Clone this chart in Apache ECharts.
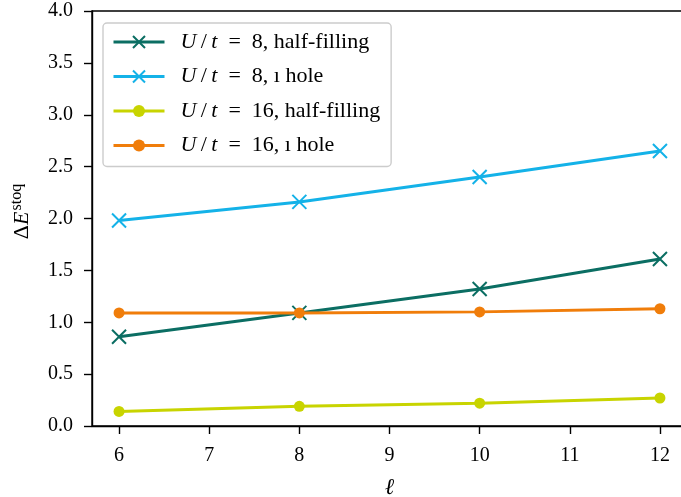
<!DOCTYPE html>
<html>
<head>
<meta charset="utf-8">
<script src="https://cdn.jsdelivr.net/npm/echarts@6/dist/echarts.min.js"></script>
<style>html,body{margin:0;padding:0;background:#fff}#c{width:681px;height:497px}</style>
</head>
<body>
<div id="c"></div>
<script>
const xValues = [6, 8, 10, 12];
const xTicks = [6, 7, 8, 9, 10, 11, 12];
const u8Half = [0.86, 1.09, 1.32, 1.61];
const u8Hole = [1.98, 2.16, 2.40, 2.65];
const u16Half = [0.14, 0.19, 0.22, 0.27];
const u16Hole = [1.09, 1.09, 1.10, 1.13];
const seriesNames = ['U/t = 8, half-filling', 'U/t = 8, 1 hole', 'U/t = 16, half-filling', 'U/t = 16, 1 hole'];
const legendLabels = [
  '{i|U}{n|\u2009/\u2009}{i|t}{n|\u2002=\u20028, half-filling}',
  '{i|U}{n|\u2009/\u2009}{i|t}{n|\u2002=\u20028, ı hole}',
  '{i|U}{n|\u2009/\u2009}{i|t}{n|\u2002=\u200216, half-filling}',
  '{i|U}{n|\u2009/\u2009}{i|t}{n|\u2002=\u200216, ı hole}'
];
const colors = ['#0b6e63', '#14b2e8', '#c8d400', '#f07d0a'];
const FONT = 'Liberation Serif';
const crossPath = 'path://M0,0L10,10M10,0L0,10';

function pairs(ys) { return xValues.map((x, i) => [x, ys[i]]); }
function mk(name, ys, color, cross) {
  return {
    name: name, type: 'line', data: pairs(ys),
    symbol: cross ? crossPath : 'circle',
    symbolSize: cross ? 14 : 11,
    showSymbol: true,
    lineStyle: { color: color, width: 3 },
    itemStyle: cross ? { color: 'transparent', borderColor: color, borderWidth: 2 } : { color: color, borderWidth: 0 },
    emphasis: { disabled: true },
    animation: false, z: 3
  };
}
const labelMap = {};
seriesNames.forEach((n, i) => labelMap[n] = legendLabels[i]);

const chart = echarts.init(document.getElementById('c'), null, { renderer: 'canvas' });
chart.setOption({
  animation: false,
  backgroundColor: '#fff',
  grid: { left: 92, top: 11, width: 595, height: 415, outerBoundsMode: 'none', show: true, borderColor: '#000', borderWidth: 1.4, backgroundColor: 'transparent' },
  xAxis: {
    type: 'value', min: 5.7, max: 12.3,
    name: 'ℓ', nameLocation: 'middle', nameGap: 50,
    nameTextStyle: { fontFamily: FONT, fontStyle: 'italic', fontSize: 23, color: '#000' },
    axisLine: { show: true, onZero: false, lineStyle: { color: '#000', width: 1.4 } },
    axisTick: { show: true, length: 8, customValues: xTicks, lineStyle: { color: '#000', width: 1.4 } },
    axisLabel: { customValues: xTicks, fontFamily: FONT, fontSize: 20, color: '#000', margin: 20 },
    splitLine: { show: false }
  },
  yAxis: {
    type: 'value', min: 0, max: 4, interval: 0.5,
    name: '{d|Δ}{a|E}{b|stoq}', nameLocation: 'middle', nameGap: 57, nameRotate: 90,
    nameTextStyle: {
      padding: [0, 0, 0, 14],
      rich: {
        d: { fontFamily: FONT, fontSize: 22, color: '#000' },
        a: { fontFamily: FONT, fontSize: 22, color: '#000', fontStyle: 'italic' },
        b: { fontFamily: FONT, fontSize: 16, color: '#000', verticalAlign: 'top', padding: [0, 0, 10, 1] }
      }
    },
    axisLine: { show: true, lineStyle: { color: '#000', width: 1.4 } },
    axisTick: { show: true, length: 8, lineStyle: { color: '#000', width: 1.4 } },
    axisLabel: { fontFamily: FONT, fontSize: 20, color: '#000', margin: 19, formatter: v => v.toFixed(1) },
    splitLine: { show: false }
  },
  legend: {
    left: 103, top: 23, orient: 'vertical',
    itemWidth: 51, itemHeight: 15, itemGap: 12.5,
    padding: [8, 11, 10, 9],
    backgroundColor: 'rgba(255,255,255,0.8)',
    borderColor: '#cccccc', borderWidth: 1.4, borderRadius: 4,
    lineStyle: { width: 3 },
    data: seriesNames,
    formatter: n => labelMap[n],
    textStyle: {
      color: '#000', padding: [0, 0, 0, 11],
      rich: {
        i: { fontFamily: FONT, fontStyle: 'italic', fontSize: 22, color: '#000' },
        n: { fontFamily: FONT, fontSize: 22, color: '#000' }
      }
    }
  },
  series: [
    mk(seriesNames[0], u8Half, colors[0], true),
    mk(seriesNames[1], u8Hole, colors[1], true),
    mk(seriesNames[2], u16Half, colors[2], false),
    mk(seriesNames[3], u16Hole, colors[3], false)
  ]
});
</script>
</body>
</html>
